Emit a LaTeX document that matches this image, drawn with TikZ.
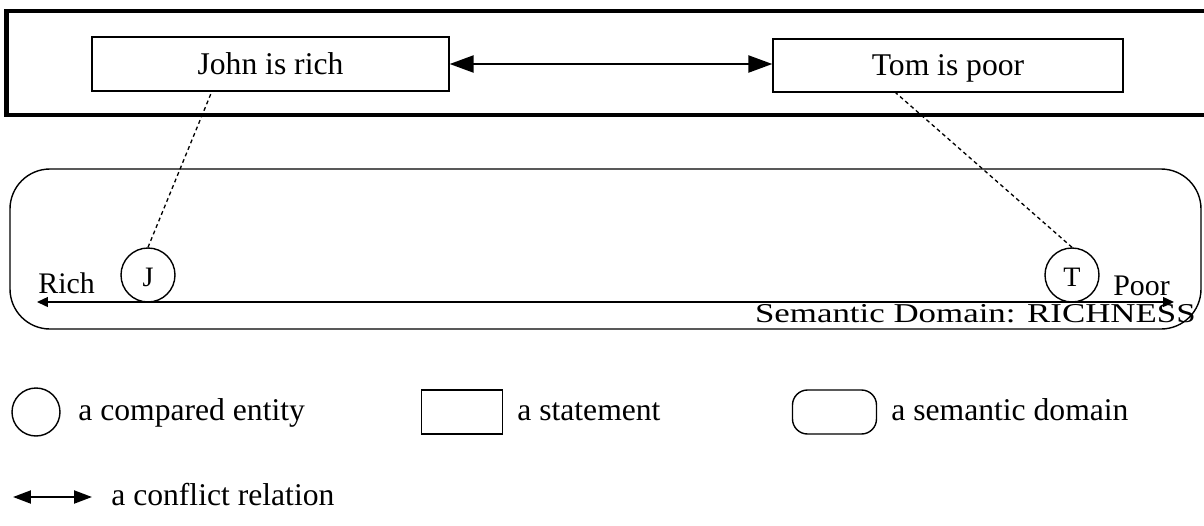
\documentclass[tikz,border=0pt]{standalone}
\usepackage{fontspec}
\setmainfont{Liberation Serif}
\newfontfamily\widefont[FakeStretch=1.28]{Liberation Serif}
\usetikzlibrary{arrows.meta,calc}
\begin{document}
\begin{tikzpicture}[x=0.02cm,y=-0.02cm,
  stmt/.style={draw,line width=0.8pt,rectangle,inner sep=0pt,text height=13.4pt,text depth=2pt,font=\fontsize{18}{20}\selectfont},
  ent/.style={draw,line width=0.8pt,circle,inner sep=0pt,minimum size=1.08cm,text height=13pt,text depth=0pt,font=\fontsize{16}{18}\selectfont},
  conf/.style={line width=1.3pt,{Triangle[length=0.48cm,width=0.34cm]}-{Triangle[length=0.48cm,width=0.34cm]}},
  axis/.style={line width=0.8pt,{Triangle[length=0.22cm,width=0.2cm]}-{Triangle[length=0.22cm,width=0.2cm]}},
  link/.style={line width=0.75pt,dash pattern=on 2.2pt off 1.8pt},
  lbl/.style={inner sep=0pt,font=\fontsize{17}{19}\selectfont},
  leg/.style={inner sep=0pt,font=\fontsize{18}{20}\selectfont}]
\useasboundingbox (0,0) rectangle (1204,525);
% outer frame (open at right)
\draw[line width=2.3pt] (1204,11) -- (6.5,11) -- (6.5,115) -- (1204,115);
% statements
\node[stmt,minimum width=7.14cm,minimum height=1.08cm] (john) at (270.5,64) {John is rich};
\node[stmt,minimum width=7.0cm,minimum height=1.06cm] (tom) at (948,65.5) {Tom is poor};
\draw[conf] (john.east) -- (john.east -| tom.west);
% semantic domain
\draw[line width=0.8pt,rounded corners=0.8cm] (10,169) rectangle (1201,329);
\coordinate (axL) at (37,302);
\coordinate (axR) at (1174,302);
\draw[axis] (axL) -- (axR);
\node[ent] (J) at (148,275) {J};
\node[ent] (T) at (1072,275) {T};
\node[lbl,anchor=base west] (rich) at (38,293) {Rich};
\node[lbl,anchor=base west] (poor) at (1113,295) {Poor};
\node[inner sep=0pt,anchor=base east,font=\widefont\fontsize{15.5}{17}\selectfont] (dom) at (1196,322) {Semantic Domain: RICHNESS};
\draw[link] (J.north) -- ($(john.south west)!0.336!(john.south east)$);
\draw[link] (T.north) -- ($(tom.south west)!0.351!(tom.south east)$);
% legend
\node[draw,line width=0.8pt,circle,inner sep=0pt,minimum size=0.96cm] (lc) at (36,412) {};
\node[leg,anchor=base west] (lct) at (78,420) {a compared entity};
\node[draw,line width=0.8pt,rectangle,inner sep=0pt,minimum width=1.62cm,minimum height=0.88cm] (lr) at (462,412) {};
\node[leg,anchor=base west] (lrt) at (517,420) {a statement};
\node[draw,line width=0.8pt,rectangle,rounded corners=0.3cm,inner sep=0pt,minimum width=1.68cm,minimum height=0.88cm] (ld) at (834.5,412) {};
\node[leg,anchor=base west] (ldt) at (891,420) {a semantic domain};
\coordinate (la1) at (13,497);
\coordinate (la2) at (92,497);
\draw[line width=1.2pt,{Triangle[length=0.36cm,width=0.26cm]}-{Triangle[length=0.36cm,width=0.26cm]}] (la1) -- (la2);
\node[leg,anchor=base west] (lat) at (111,505) {a conflict relation};
\end{tikzpicture}
\end{document}
